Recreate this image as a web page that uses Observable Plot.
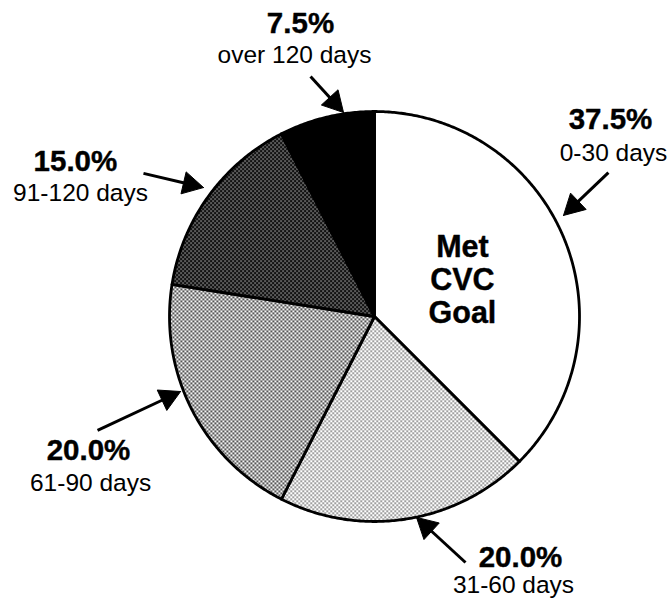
<!DOCTYPE html>
<html>
<head>
<meta charset="utf-8">
<script src="https://cdn.jsdelivr.net/npm/d3@7"></script>
<script src="https://cdn.jsdelivr.net/npm/@observablehq/plot@0.6"></script>
<style>
  html, body { margin: 0; padding: 0; background: #fff; }
  #chart svg { display: block; }
</style>
</head>
<body>
<div id="chart"></div>
<script>
// ---- data ----
const categories = ["0-30 days", "31-60 days", "61-90 days", "91-120 days", "over 120 days"];
const shares = [37.5, 20.0, 20.0, 15.0, 7.5];
const percentLabels = ["37.5%", "20.0%", "20.0%", "15.0%", "7.5%"];
const centerLabel = ["Met", "CVC", "Goal"];

// ---- styles / layout (not data) ----
const fills = ["#ffffff", "url(#pLight)", "url(#pMedium)", "url(#pDark)", "#000000"];
// label layout in pie-radius units (center = 0,0, y downward)
const labelPos = [
  {bx: 1.151, by: -0.961, rx: 1.166, ry: -0.795, ax1: 1.141, ay1: -0.702, ax2: 0.922, ay2: -0.493},
  {bx: 0.712, by: 1.176, rx: 0.678, ry: 1.312, ax1: 0.444, ay1: 1.200, ax2: 0.205, ay2: 0.980},
  {bx: -1.395, by: 0.654, rx: -1.385, ry: 0.815, ax1: -1.351, ay1: 0.556, ax2: -0.946, ay2: 0.366},
  {bx: -1.459, by: -0.756, rx: -1.434, ry: -0.600, ax1: -1.127, ay1: -0.698, ax2: -0.834, ay2: -0.629},
  {bx: -0.361, by: -1.429, rx: -0.390, ry: -1.273, ax1: -0.312, ay1: -1.171, ax2: -0.151, ay2: -0.995}
];
const centerLabelPos = {x: 0.429, y0: -0.337, dy: 0.161};
const headLen = 0.10, headHalf = 0.055;
const font = "'Liberation Sans', Arial, Helvetica, sans-serif";

// ---- geometry from data ----
const total = d3.sum(shares);
let acc = 0;
const slices = shares.map((v, i) => {
  const a0 = acc / total * 2 * Math.PI;
  acc += v;
  const a1 = acc / total * 2 * Math.PI;
  const n = Math.max(2, Math.ceil((a1 - a0) / (Math.PI / 360)));
  const pts = [{x: 0, y: 0}];
  for (let k = 0; k <= n; k++) {
    const a = a0 + (a1 - a0) * k / n;
    pts.push({x: Math.sin(a), y: -Math.cos(a)});
  }
  pts.push({x: 0, y: 0});
  return {key: categories[i], fill: fills[i], pts};
});

const arrows = labelPos.map((p, i) => ({i, x1: p.ax1, y1: p.ay1, x2: p.ax2, y2: p.ay2}));
const heads = arrows.map(a => {
  const dx = a.x2 - a.x1, dy = a.y2 - a.y1, L = Math.hypot(dx, dy);
  const ux = dx / L, uy = dy / L, px = -uy, py = ux;
  const bx = a.x2 - ux * headLen, by = a.y2 - uy * headLen;
  return [
    {x: a.x2, y: a.y2},
    {x: bx + px * headHalf, y: by + py * headHalf},
    {x: bx - px * headHalf, y: by - py * headHalf},
    {x: a.x2, y: a.y2}
  ];
});
const shafts = arrows.map(a => {
  const dx = a.x2 - a.x1, dy = a.y2 - a.y1, L = Math.hypot(dx, dy);
  return {x1: a.x1, y1: a.y1, x2: a.x2 - dx / L * headLen * 0.8, y2: a.y2 - dy / L * headLen * 0.8};
});

const pctText = labelPos.map((p, i) => ({x: p.bx, y: p.by, t: percentLabels[i]}));
const catText = labelPos.map((p, i) => ({x: p.rx, y: p.ry, t: categories[i]}));
const midText = centerLabel.map((t, i) => ({x: centerLabelPos.x, y: centerLabelPos.y0 + i * centerLabelPos.dy, t}));

const R = 205, CX = 374, CY = 316, W = 670, H = 598;

const svg = Plot.plot({
  width: W,
  height: H,
  margin: 0,
  x: {domain: [-CX / R, (W - CX) / R], range: [0, W], axis: null},
  y: {domain: [-CY / R, (H - CY) / R], range: [0, H], axis: null},
  marks: [
    ...slices.map(s => Plot.line(s.pts, {x: "x", y: "y", fill: s.fill, stroke: "#000", strokeWidth: 2.8, strokeLinejoin: "round", curve: "linear"})),
    Plot.link(shafts, {x1: "x1", y1: "y1", x2: "x2", y2: "y2", stroke: "#000", strokeWidth: 3}),
    ...heads.map(h => Plot.line(h, {x: "x", y: "y", fill: "#000", stroke: "#000", strokeWidth: 1})),
    Plot.text(pctText, {x: "x", y: "y", text: "t", fontSize: 29.5, fontWeight: "bold", fontFamily: font, fill: "#000", stroke: "#000", strokeWidth: 0.4}),
    Plot.text(catText, {x: "x", y: "y", text: "t", fontSize: 24.5, fontFamily: font, fill: "#000"}),
    Plot.text(midText, {x: "x", y: "y", text: "t", fontSize: 30.5, fontWeight: "bold", fontFamily: font, fill: "#000", stroke: "#000", strokeWidth: 0.4})
  ]
});

// halftone-like patterns
const defs = d3.select(svg).insert("defs", ":first-child");
function pattern(id, bg, dot, size) {
  const p = defs.append("pattern").attr("id", id).attr("patternUnits", "userSpaceOnUse")
    .attr("width", 4).attr("height", 4);
  p.append("rect").attr("width", 4).attr("height", 4).attr("fill", bg);
  p.append("rect").attr("x", 0).attr("y", 0).attr("width", size).attr("height", size).attr("fill", dot);
  p.append("rect").attr("x", 2).attr("y", 2).attr("width", size).attr("height", size).attr("fill", dot);
}
pattern("pLight", "#ffffff", "#3a3a3a", 1.4);
pattern("pMedium", "#f4f4f4", "#1a1a1a", 1.7);
pattern("pDark", "#111111", "#ffffff", 1.1);

document.getElementById("chart").appendChild(svg);
</script>
</body>
</html>
